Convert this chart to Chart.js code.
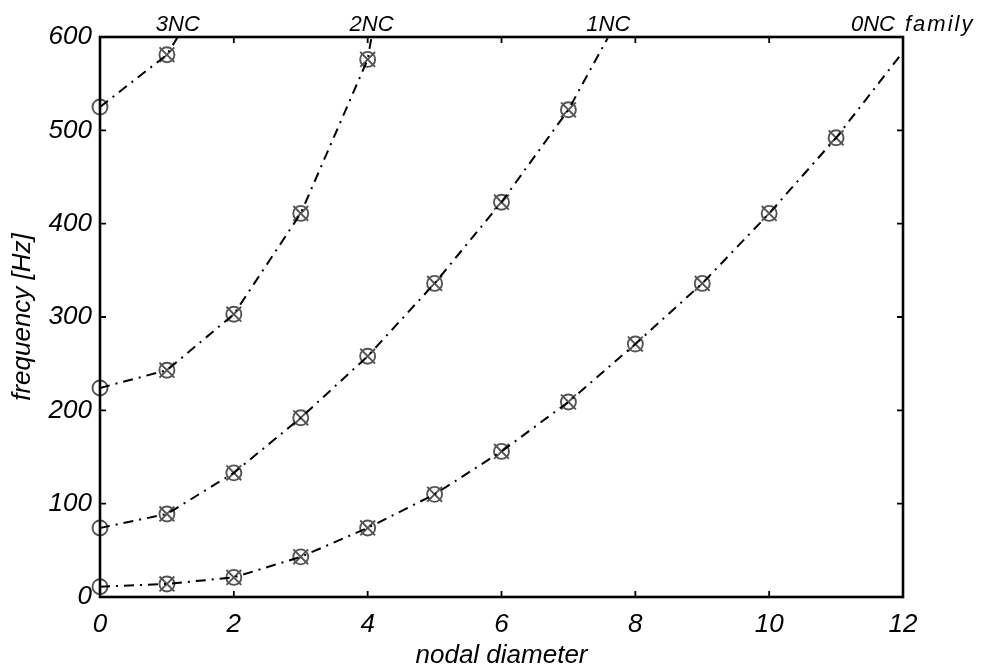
<!DOCTYPE html>
<html><head><meta charset="utf-8">
<script src="https://cdn.jsdelivr.net/npm/chart.js@4"></script>
<style>html,body{margin:0;padding:0;background:#fff;overflow:hidden}</style>
</head><body>
<canvas id="c" width="985" height="671"></canvas>
<script>
// ---- data ----
const nodalDiameter = [0,1,2,3,4,5,6,7,8,9,10,11];
const familyNames = ['0NC','1NC','2NC','3NC'];
const freq0NC = [11,14,21,43,74,110,156,209,271,336,411,492];
const freq1NC = [74,89,133,192,258,336,423,522];
const freq2NC = [224,243,303,411,576];
const freq3NC = [525,581];
// continuation of each trend line beyond its last measured point: [nodal diameter, frequency]
const trend0NC = [12, 584];
const trend1NC = [8, 653];
const trend2NC = [5, 990];
const trend3NC = [2, 698];
const xTicks = [0,2,4,6,8,10,12];
const yTicks = [0,100,200,300,400,500,600];
const firstCrossedDiameter = 1;   // points with nodal diameter >= 1 carry the x mark

const families = [
  {name: familyNames[0], freq: freq0NC, trend: trend0NC},
  {name: familyNames[1], freq: freq1NC, trend: trend1NC},
  {name: familyNames[2], freq: freq2NC, trend: trend2NC},
  {name: familyNames[3], freq: freq3NC, trend: trend3NC}
];

const FONT = "'Liberation Sans', Arial, Helvetica, sans-serif";
const MARK = '#555555';

const datasets = [];
families.forEach(f => {
  const pts = f.freq.map((v, i) => ({x: nodalDiameter[i], y: v}));
  const linePts = pts.concat([{x: f.trend[0], y: f.trend[1]}]);
  datasets.push({
    label: f.name + ' line', data: linePts, family: f.name, isLine: true, showLine: true,
    borderColor: '#000', borderWidth: 2, borderDash: [10, 6, 2, 6],
    pointRadius: 0, pointHoverRadius: 0, tension: 0, fill: false, order: 0
  });
  datasets.push({
    label: f.name + ' circles', data: pts, showLine: false, clip: false,
    pointStyle: 'circle', pointRadius: 7.5, pointBorderWidth: 1.9,
    pointBorderColor: MARK, pointBackgroundColor: 'rgba(0,0,0,0)', order: 1
  });
  datasets.push({
    label: f.name + ' crosses', data: pts.filter(p => p.x >= firstCrossedDiameter), showLine: false, clip: false,
    pointStyle: 'crossRot', pointRadius: 10.5, pointBorderWidth: 1.9,
    pointBorderColor: MARK, pointBackgroundColor: 'rgba(0,0,0,0)', order: 1
  });
});

const framePlugin = {
  id: 'frame',
  afterDatasetsDraw(chart) {
    const {ctx, chartArea: a, scales: {x, y}} = chart;
    ctx.save();
    ctx.strokeStyle = '#000';
    ctx.lineWidth = 1.8;
    const tl = 6;
    ctx.beginPath();
    x.ticks.forEach(t => {
      const px = x.getPixelForValue(t.value);
      ctx.moveTo(px, a.bottom); ctx.lineTo(px, a.bottom - tl);
      ctx.moveTo(px, a.top); ctx.lineTo(px, a.top + tl);
    });
    y.ticks.forEach(t => {
      const py = y.getPixelForValue(t.value);
      ctx.moveTo(a.left, py); ctx.lineTo(a.left + tl, py);
      ctx.moveTo(a.right, py); ctx.lineTo(a.right - tl, py);
    });
    ctx.stroke();
    ctx.lineWidth = 2.6;
    ctx.strokeRect(a.left, a.top, a.right - a.left, a.bottom - a.top);
    ctx.restore();
  }
};

const familyLabelPlugin = {
  id: 'familyLabels',
  afterDraw(chart) {
    const {ctx, chartArea: a, scales: {x, y}} = chart;
    ctx.save();
    ctx.font = 'italic 22px ' + FONT;
    ctx.fillStyle = '#000';
    ctx.textBaseline = 'alphabetic';
    chart.data.datasets.filter(d => d.isLine).forEach(d => {
      let cross = x.max;
      const d0 = d.data;
      for (let i = 1; i < d0.length; i++) {
        if (d0[i-1].y < y.max && d0[i].y >= y.max) {
          cross = d0[i-1].x + (y.max - d0[i-1].y) / (d0[i].y - d0[i-1].y) * (d0[i].x - d0[i-1].x);
          break;
        }
      }
      let px = x.getPixelForValue(Math.min(cross, x.max));
      const last = cross >= x.max;
      if (last) px = a.right - 30;
      ctx.textAlign = 'center';
      ctx.fillText(d.family, px, 31);
      if (last) {
        const w = ctx.measureText(d.family).width;
        ctx.textAlign = 'left';
        try { ctx.letterSpacing = '2px'; } catch (e) {}
        ctx.fillText('family', px + w / 2 + 10, 31);
        try { ctx.letterSpacing = '0px'; } catch (e) {}
      }
    });
    ctx.restore();
  }
};

new Chart(document.getElementById('c'), {
  type: 'scatter',
  data: {datasets},
  options: {
    responsive: false,
    animation: false,
    events: [],
    layout: {padding: {top: 37, right: 82, left: 0, bottom: 0}},
    plugins: {legend: {display: false}, tooltip: {enabled: false}},
    scales: {
      x: {
        type: 'linear', min: 0, max: 12,
        afterBuildTicks: s => { s.ticks = xTicks.map(v => ({value: v})); },
        afterFit: s => { s.height = 74; },
        grid: {display: false, drawTicks: false},
        border: {display: false},
        ticks: {color: '#000', padding: 12, font: {family: FONT, size: 26, style: 'italic'}},
        title: {display: true, text: 'nodal diameter', color: '#000',
                font: {family: FONT, size: 26, style: 'italic'}, padding: {top: 0, bottom: 0}}
      },
      y: {
        type: 'linear', min: 0, max: 600,
        afterBuildTicks: s => { s.ticks = yTicks.map(v => ({value: v})); },
        afterFit: s => { s.width = 100; },
        grid: {display: false, drawTicks: false},
        border: {display: false},
        ticks: {color: '#000', padding: 8, font: {family: FONT, size: 26, style: 'italic'}},
        title: {display: true, text: 'frequency [Hz]', color: '#000',
                font: {family: FONT, size: 26, style: 'italic'}, padding: {top: 7, bottom: 0}}
      }
    }
  },
  plugins: [framePlugin, familyLabelPlugin]
});
</script>
</body></html>
